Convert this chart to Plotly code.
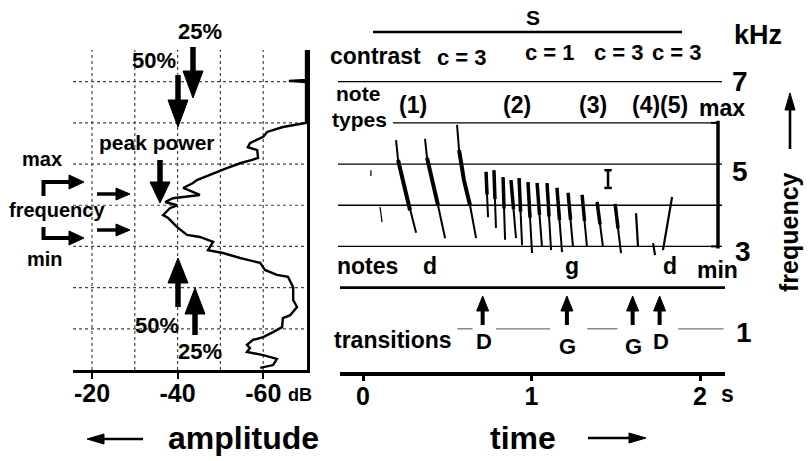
import math
import plotly.graph_objects as go

W, H = 810, 461
FONT = "Liberation Sans, Arial, sans-serif"

# ---------------- data ----------------
# amplitude spectrum (dB, kHz)
spectrum = [(-70.0, 7.77), (-70.0, 7.04), (-66.0, 7.02), (-70.0, 6.99), (-70.0, 6.00),
            (-64.6, 5.90), (-60.9, 5.78), (-60.0, 5.66), (-56.9, 5.51), (-56.4, 5.41),
            (-58.6, 5.34), (-58.8, 5.15), (-57.4, 5.10), (-54.6, 5.02), (-51.5, 4.90),
            (-49.4, 4.81), (-48.3, 4.78), (-45.9, 4.68), (-44.5, 4.61), (-43.6, 4.54),
            (-42.4, 4.47), (-41.3, 4.42), (-45.2, 4.25), (-41.3, 4.20), (-38.9, 4.17),
            (-37.1, 4.08), (-39.9, 4.00), (-38.2, 3.93), (-36.6, 3.76), (-37.8, 3.69),
            (-39.9, 3.47), (-42.2, 3.28), (-45.2, 3.23), (-48.3, 3.11), (-47.1, 2.91),
            (-50.6, 2.84), (-54.6, 2.72), (-59.3, 2.60), (-60.4, 2.43), (-63.2, 2.31),
            (-65.8, 2.26), (-67.0, 2.01), (-67.0, 1.70), (-67.9, 1.53), (-66.3, 1.33),
            (-64.6, 1.26), (-64.4, 1.04), (-62.3, 0.92), (-60.0, 0.80), (-57.6, 0.73),
            (-56.2, 0.61), (-56.9, 0.53), (-56.2, 0.44), (-60.0, 0.36), (-63.2, 0.27),
            (-62.3, 0.12), (-59.3, 0.05)]
spec_db = [p[0] for p in spectrum]
spec_khz = [p[1] for p in spectrum]

amp_ticks = [-20, -40, -60]
amp_ticktext = ["-20", "-40", "-60"]
amp_grid = [-20, -30, -40, -50, -60]
freq_grid = [1, 2, 3, 4, 5, 6, 7]
time_ticks = [0, 1, 2]

# note type (1): curved down-sweeps (s, kHz)
note1_t = [[0.196, 0.208, 0.243, 0.279, 0.315],
           [0.368, 0.380, 0.409, 0.445, 0.487],
           [0.558, 0.570, 0.599, 0.635, 0.671]]
note1_f = [[5.58, 5.10, 4.49, 3.88, 3.33],
           [5.61, 5.15, 4.61, 4.00, 3.20],
           [5.95, 5.34, 4.61, 4.00, 3.20]]
# note types (2)/(3): steep down-sweeps
note2_t0 = [0.730, 0.777, 0.831, 0.878, 0.926, 0.979, 1.033, 1.092, 1.151, 1.217, 1.300, 1.389, 1.496]
note2_t1 = [0.742, 0.789, 0.843, 0.908, 0.944, 1.003, 1.062, 1.116, 1.181, 1.246, 1.329, 1.424, 1.531]
note2_f0 = [4.81, 4.85, 4.68, 4.61, 4.66, 4.56, 4.54, 4.54, 4.42, 4.30, 4.25, 4.08, 4.03]
note2_f1 = [3.71, 3.45, 3.16, 3.20, 3.03, 2.84, 2.99, 2.91, 2.86, 2.99, 2.99, 2.99, 2.84]
# note type (4) and (5), faint marks
note4_t = [[1.620, 1.632], [1.721, 1.733]]
note4_f = [[3.81, 2.99], [3.08, 2.79]]
note5_t = [1.780, 1.834]
note5_f = [2.91, 4.20]
faint_t = [[0.047, 0.047], [0.101, 0.113]]
faint_f = [[4.85, 4.71], [3.96, 3.59]]

# reference lines in the spectrogram (kHz)
spec_lines_khz = [7, 5, 4, 3]
max_khz, min_khz = 6, 3
notes_khz, trans_khz = 2, 1
trans_segments = [(0.56, 0.65), (0.79, 1.11), (1.33, 1.51), (1.87, 2.14)]
transitions = [(0.71, "D"), (1.21, "G"), (1.60, "G"), (1.76, "D")]
scale_bar_t, scale_bar_f = 1.454, (4.85, 4.42)

T0, T1 = -0.1365, 2.148   # time axis range


def px(x):
    return x / W


def py(y):
    return 1 - y / H


def tpx(t):
    return 340 + (t - T0) / (T1 - T0) * 385


fig = go.Figure()

# ---------------- left panel: spectrum ----------------
fig.add_trace(go.Scatter(x=spec_db, y=spec_khz, xaxis="x", yaxis="y", mode="lines",
                         line=dict(color="black", width=2.4), hoverinfo="skip", showlegend=False))


# ---------------- right panel: spectrogram ----------------
def seg_trace(ts, fs, width):
    fig.add_trace(go.Scatter(x=ts, y=fs, xaxis="x2", yaxis="y2", mode="lines",
                             line=dict(color="black", width=width), hoverinfo="skip",
                             showlegend=False))


for ts, fs in zip(note1_t, note1_f):
    seg_trace(ts, fs, 2.0)
    seg_trace(ts[1:4], fs[1:4], 4.0)
for t0, t1, f0, f1 in zip(note2_t0, note2_t1, note2_f0, note2_f1):
    seg_trace([t0, t1], [f0, f1], 2.0)
    seg_trace([t0, (t0 + t1) / 2], [f0, (f0 + f1) / 2], 3.5)
for ts, fs in zip(note4_t, note4_f):
    seg_trace(ts, fs, 2.2)
seg_trace(note5_t, note5_f, 2.2)
for ts, fs in zip(faint_t, faint_f):
    seg_trace(ts, fs, 1.2)

shapes = []
annotations = []


def line_px(x0, y0, x1, y1, w, color="black"):
    shapes.append(dict(type="line", xref="paper", yref="paper", x0=px(x0), y0=py(y0),
                       x1=px(x1), y1=py(y1), line=dict(color=color, width=w)))


def arrow(x0, y0, x1, y1, shaft, head_len, head_half):
    # tail (x0,y0) -> tip (x1,y1), pixel coords
    dx, dy = x1 - x0, y1 - y0
    L = math.hypot(dx, dy)
    ux, uy = dx / L, dy / L
    bx, by = x1 - ux * head_len, y1 - uy * head_len
    line_px(x0, y0, bx + ux, by + uy, shaft)
    nx, ny = -uy, ux
    pts = [(x1, y1), (bx + nx * head_half, by + ny * head_half), (bx - nx * head_half, by - ny * head_half)]
    path = "M {} {} L {} {} L {} {} Z".format(*[v for p in pts for v in (px(p[0]), py(p[1]))])
    shapes.append(dict(type="path", xref="paper", yref="paper", path=path,
                       fillcolor="black", line=dict(color="black", width=1)))


def txt(s, x, y, size, angle=0):
    annotations.append(dict(text="<b>" + s + "</b>", x=px(x), y=py(y), xref="paper", yref="paper",
                            showarrow=False, xanchor="center", yanchor="middle",
                            textangle=angle, font=dict(family=FONT, size=size, color="black")))


# left grid (dotted)
for db in amp_grid:
    shapes.append(dict(type="line", xref="x", yref="y", x0=db, x1=db, y0=0, y1=7.77,
                       line=dict(color="#444", width=1.2, dash="dot"), layer="below"))
for f in freq_grid:
    shapes.append(dict(type="line", xref="x", yref="y", x0=-15.56, x1=-70.23, y0=f, y1=f,
                       line=dict(color="#444", width=1.2, dash="dot"), layer="below"))

# spectrogram reference lines
for f in spec_lines_khz:
    shapes.append(dict(type="line", xref="paper", yref="y2", x0=px(338), x1=px(722), y0=f, y1=f,
                       line=dict(color="black", width=1.3)))
shapes.append(dict(type="line", xref="paper", yref="y2", x0=px(393), x1=px(719), y0=max_khz, y1=max_khz,
                   line=dict(color="black", width=1.3)))
shapes.append(dict(type="line", xref="paper", yref="y2", x0=px(340), x1=px(725), y0=notes_khz, y1=notes_khz,
                   line=dict(color="black", width=2.6)))
for a, b in trans_segments:
    shapes.append(dict(type="line", xref="x2", yref="y2", x0=a, x1=b, y0=trans_khz, y1=trans_khz,
                       line=dict(color="#777", width=1.3)))
# max-min bracket
shapes.append(dict(type="line", xref="paper", yref="y2", x0=px(718), x1=px(718), y0=min_khz - 0.05,
                   y1=max_khz + 0.05, line=dict(color="black", width=3.5)))
for f in (max_khz, min_khz):
    shapes.append(dict(type="line", xref="paper", yref="y2", x0=px(711), x1=px(719), y0=f, y1=f,
                       line=dict(color="black", width=2)))
# scale bar "I"
shapes.append(dict(type="line", xref="x2", yref="y2", x0=scale_bar_t, x1=scale_bar_t,
                   y0=scale_bar_f[0], y1=scale_bar_f[1], line=dict(color="black", width=2.5)))
for f in scale_bar_f:
    shapes.append(dict(type="line", xref="x2", yref="y2", x0=scale_bar_t - 0.022, x1=scale_bar_t + 0.022,
                       y0=f, y1=f, line=dict(color="black", width=2.5)))
# S line
line_px(373, 32, 682, 32, 2.6)

# ---------------- arrows ----------------
arrow(193, 47, 193, 98, 5.5, 27, 10)      # 25% top
arrow(178, 75, 178, 127, 5.5, 27, 10)     # 50% top
arrow(160, 160, 160, 203, 5.5, 21, 10)    # peak power
arrow(178, 307, 178, 258, 5.5, 25, 10)    # 50% bottom
arrow(195, 335, 195, 288, 5.5, 26, 10)    # 25% bottom
# max / min bent arrows
line_px(43.5, 196, 43.5, 180, 4)
arrow(42, 182, 84, 182, 4, 15, 7)
line_px(43.5, 227, 43.5, 240, 4)
arrow(42, 238, 84, 238, 4, 15, 7)
arrow(97, 194, 130, 194, 3.5, 14, 6)
arrow(97, 230, 130, 230, 3.5, 14, 6)
# transitions
for t, lab in transitions:
    arrow(tpx(t), 325, tpx(t), 296, 4, 15, 6)
# axis-label arrows
arrow(143, 439, 87, 439, 2.6, 17, 5)
arrow(588, 438, 646, 438, 2.6, 17, 5)
arrow(790, 149, 790, 93, 2.6, 17, 5)

# ---------------- text ----------------
txt("25%", 200, 32, 22)
txt("50%", 154, 61, 22)
txt("peak power", 157, 142, 21)
txt("max", 42, 159, 20)
txt("frequency", 57, 210, 20)
txt("min", 45, 259, 20)
txt("50%", 157, 325, 22)
txt("25%", 200, 351, 22)
txt("dB", 300, 395, 18)
txt("amplitude", 243, 438, 32)

txt("S", 533, 18, 21)
txt("kHz", 758, 35, 27)
txt("contrast", 375, 56, 23)
txt("c = 3", 462, 57, 22)
txt("c = 1", 550, 52, 22)
txt("c = 3", 619, 52, 22)
txt("c = 3", 677, 52, 22)
txt("7", 740, 81, 28)
txt("note", 358, 94, 21)
txt("types", 359, 119, 21)
txt("(1)", 413, 105, 23)
txt("(2)", 517, 105, 23)
txt("(3)", 593, 105, 23)
txt("(4)(5)", 660, 105, 23)
txt("max", 722, 108, 23)
txt("5", 740, 171, 28)
txt("3", 743, 252, 28)
txt("notes", 367, 266, 23)
txt("d", 430, 266, 23)
txt("g", 572, 266, 23)
txt("d", 670, 266, 23)
txt("min", 717, 270, 23)
txt("transitions", 393, 340, 23)
for t, lab in transitions:
    txt(lab, tpx(t) + 1, 341 if lab == "D" else 346, 22)
txt("1", 744, 332, 28)
txt("s", 727, 394, 23)
txt("time", 523, 438, 32)
txt("frequency", 789, 232, 25, angle=-90)

fig.update_layout(
    width=W, height=H, margin=dict(l=0, r=0, t=0, b=0),
    paper_bgcolor="white", plot_bgcolor="rgba(0,0,0,0)",
    showlegend=False, shapes=shapes, annotations=annotations,
    font=dict(family=FONT, color="black"),
    xaxis=dict(domain=[px(73), px(307)], range=[-15.56, -70.23], anchor="y",
               tickvals=amp_ticks, ticktext=["<b>" + s + "</b>" for s in amp_ticktext],
               ticks="outside", ticklen=6, ticklabelstandoff=-7,
               tickwidth=2, tickcolor="black", showline=True, linewidth=3, linecolor="black",
               showgrid=False, zeroline=False, tickfont=dict(size=25, family=FONT)),
    yaxis=dict(domain=[py(370), py(50)], range=[0, 7.77], anchor="x", side="right",
               showline=True, linewidth=2.6, linecolor="black", showticklabels=False,
               ticks="", showgrid=False, zeroline=False),
    xaxis2=dict(domain=[px(340), px(725)], range=[T0, T1], anchor="y2",
                tickvals=time_ticks, ticktext=["<b>%d</b>" % v for v in time_ticks],
                ticks="outside", ticklen=5, ticklabelstandoff=-6, tickwidth=2.5,
                tickcolor="black", showline=True, linewidth=3.5, linecolor="black",
                showgrid=False, zeroline=False, tickfont=dict(size=25, family=FONT)),
    yaxis2=dict(domain=[py(372), py(10)], range=[-0.049, 8.74], anchor="x2", visible=False),
)

fig.write_html("out.html")
